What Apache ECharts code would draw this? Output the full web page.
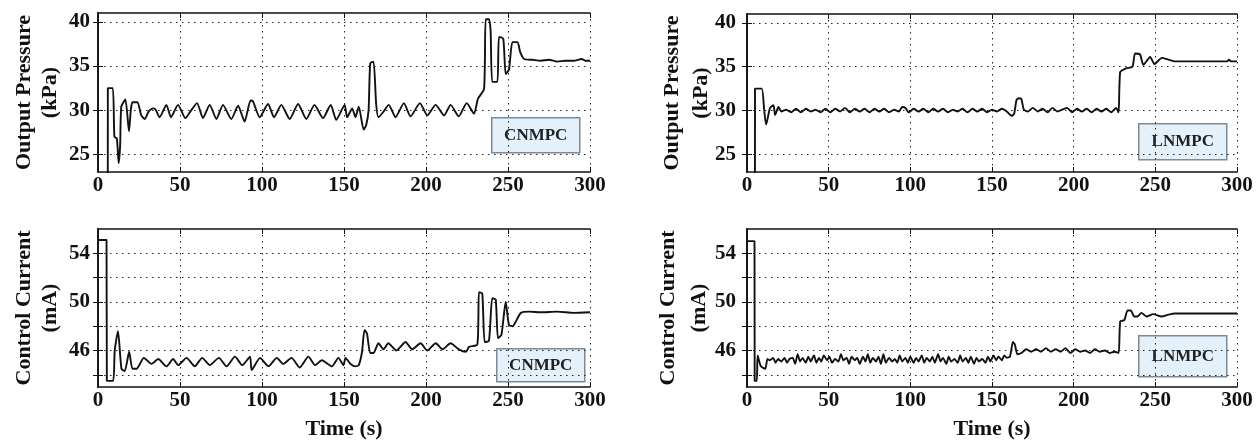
<!DOCTYPE html>
<html>
<head>
<meta charset="utf-8">
<script src="https://cdn.jsdelivr.net/npm/echarts@6/dist/echarts.min.js"></script>
<style>
html,body{margin:0;padding:0;background:#fff;}
#c{width:1260px;height:441px;}
</style>
</head>
<body>
<div id="c"></div>
<script>
// ---- data (time s, value) ----
var timeTicks = [0, 50, 100, 150, 200, 250, 300];
var pressureTicks = [25, 30, 35, 40];
var currentGrid = [44, 46, 48, 50, 52, 54];
var currentLabels = [46, 50, 54];
var panelTags = ['CNMPC', 'LNMPC', 'CNMPC', 'LNMPC'];

var cnmpcPressure = [[0,0],[5.9,0],[6,32.5],[9,32.5],[10,27],[11.5,26.8],[12.6,24],[13.5,26],[14.2,30.4],[16.7,31.2],[18.9,27.6],[20,30],[21,30.9],[24,30.9],[26.4,29.4],[28.5,29],[31,29.9],[33.5,30.2],[35,30.1],[37.6,29.2],[41.7,30.6],[44.5,29.2],[48.8,30.6],[53.3,29.1],[56.5,29.9],[60.4,30.8],[64,29.1],[68.1,30.6],[72.2,29.0],[76.2,30.6],[81.3,29.0],[85.4,30.5],[89.4,28.7],[93,31.1],[94.5,31.0],[98.6,29.2],[103.7,30.7],[107.3,29.2],[111.8,30.6],[116.9,29.0],[122,30.7],[127,29.0],[132,30.6],[137.2,29.1],[141.9,30.6],[145.3,28.9],[150.4,30.6],[151.9,29.2],[155,30.2],[157,29.2],[159,30.4],[162,27.8],[163.5,28.3],[165,30],[166,35.3],[168,35.5],[169.6,30.7],[171,29.2],[174,29.8],[177.3,30.6],[181.4,29.2],[186.5,30.8],[190.6,29.3],[196.3,30.8],[200.8,29.4],[205.9,30.6],[211,29.4],[215,30.6],[220,29.3],[224.8,30.8],[229.3,29.6],[231.7,31.3],[235.4,32.4],[236.4,40.3],[238.4,40.3],[239.4,39],[240.4,33.2],[243.5,33.2],[244.5,38.3],[247.1,38.1],[248.6,34.1],[250.6,34.6],[252.7,37.7],[255.8,37.7],[257.4,36.6],[259.8,35.8],[265,35.7],[270,35.6],[275,35.7],[280,35.5],[285,35.6],[290,35.6],[295,35.8],[297,35.6],[300,35.6]];

var lnmpcPressure = [[0,0],[4.8,0],[4.9,32.5],[9,32.5],[10.5,30.1],[11.7,28.4],[14.1,30.3],[16.2,30.6],[17.2,29.5],[19.3,30.4],[21,29.9],[24,30.1],[27,29.8],[30,30.2],[33,29.8],[36,30.2],[39,29.9],[42,30.1],[45,29.8],[48,30.2],[51,29.8],[54,30.2],[57,29.9],[60,30.3],[63,29.8],[66,30.2],[69,29.9],[72,30.2],[75,29.8],[78,30.2],[81,29.9],[84,30.2],[87,29.8],[90,30.1],[93,29.9],[95,30.4],[97,30.3],[99,29.8],[102,30.2],[105,29.9],[108,30.2],[111,29.8],[114,30.2],[117,29.9],[120,30.2],[123,29.8],[126,30.1],[129,29.9],[132,30.2],[135,29.8],[138,30.2],[141,29.9],[144,30.2],[147,29.8],[150,30.1],[153,29.9],[156,30.2],[159,29.9],[162,29.4],[163.5,29.6],[165,31.2],[166.3,31.4],[168,31.3],[169.5,30.1],[172,29.9],[175,30.3],[178,29.9],[181,30.2],[184,29.8],[187,30.3],[190,29.9],[193,30.1],[196,30.3],[199,29.8],[202,30.2],[205,29.9],[208,30.2],[211,29.8],[214,30.2],[217,29.9],[220,30.2],[223,29.8],[226,30.3],[227.5,29.8],[228.5,34.4],[232,34.8],[236,35],[237.6,36.5],[240.6,36.4],[242.7,35.2],[246.8,36.1],[249.5,35.3],[254,36],[258,35.8],[262,35.6],[280,35.6],[294,35.6],[295,35.8],[296.5,35.6],[300,35.6]];

var cnmpcCurrent = [[0,55.1],[5.2,55.1],[5.4,43.5],[9.2,43.5],[10.2,46],[12.2,47.6],[14.3,44.5],[16.3,44.3],[19,45.9],[21,44.5],[23.5,44.5],[28,45.4],[32.6,44.9],[36.7,45.3],[41.8,44.7],[45.8,45.3],[48.9,44.8],[54,45.4],[59,44.7],[63.5,45.4],[68.2,44.8],[73.7,45.4],[78.4,44.7],[83.5,45.5],[88,44.8],[92.7,45.5],[93.7,44.4],[98.8,45.4],[103.9,44.7],[109,45.4],[113,44.9],[118,45.4],[123,44.6],[128.3,45.5],[132.4,44.8],[136.5,45.2],[142.6,44.7],[146.6,45.4],[149.7,44.8],[150.9,45.4],[154,44.9],[157,44.7],[159,44.8],[161,45.9],[162.5,47.7],[164,47.4],[166,45.8],[168,45.8],[171,46.6],[174,46.1],[177,46.6],[182,46.0],[187.5,46.7],[191.6,46.1],[196.7,46.6],[200.8,46.0],[205.9,46.6],[210,46.1],[215,46.6],[220,46.1],[224.4,45.9],[226.2,46.3],[231.3,46.5],[232.3,50.8],[234.3,50.7],[235.8,46.7],[238.4,46.8],[240.4,50.3],[242.5,50.2],[243.9,47],[246,47.3],[248.6,50.0],[250.6,48.1],[253,48.0],[254.8,48.4],[257.9,49.1],[263,49.2],[270,49.15],[280,49.2],[290,49.1],[300,49.15]];

var lnmpcCurrent = [[0,55],[4.6,55],[4.7,43.5],[6,43.5],[6.5,45.6],[8.5,44.7],[11.2,44.5],[12.5,45.3],[14,45.2],[16,45.4],[17.5,45.0],[19,45.3],[21,45.1],[23,45.4],[24.5,45.0],[26,45.3],[28,45.4],[29.5,44.9],[31,45.7],[32.5,45.1],[34,45.4],[36,45.0],[37.5,45.5],[39,45.1],[41,45.6],[42.5,45.0],[44,45.4],[45.5,45.1],[47,45.6],[49,45.2],[50.5,45.5],[52,45.0],[54,45.3],[56,45.1],[57.5,45.7],[59,45.2],[61,45.4],[62.5,44.9],[64,45.5],[66,45.2],[67.5,45.4],[69,44.9],[71,45.5],[72.5,45.1],[74,45.7],[75.5,45.0],[77,45.4],[79,45.1],[80.5,45.5],[82,44.9],[83.5,45.7],[85,45.0],[87,45.4],[89,45.1],[90.5,45.3],[92,45.0],[93.5,45.6],[95,45.1],[97,45.4],[98.5,45.0],[100,45.5],[102,45.0],[103.5,45.4],[105,45.1],[107,45.6],[108.5,45.0],[110,45.4],[112,45.1],[113.5,45.5],[115,45.0],[117,45.7],[118.5,45.1],[120,45.4],[122,44.9],[123.5,45.5],[125,45.1],[127,45.3],[129,45.0],[130.5,45.6],[132,45.1],[134,45.4],[135.5,45.0],[137,45.5],[139,44.9],[140.5,45.4],[142,45.1],[144,45.3],[146,45.0],[147.5,45.5],[149,45.1],[151,45.6],[152.5,45.2],[154,45.5],[156,45.2],[157.5,45.6],[159,45.4],[161,45.5],[162.8,46.7],[164,46.5],[165.5,45.7],[168,45.8],[171,46.1],[174,45.9],[177,46.1],[180,45.9],[183,46.2],[186,45.9],[189,46.1],[192,45.9],[195,46.2],[198,45.8],[201,46.1],[204,45.9],[207,46.0],[210,45.8],[213,46.1],[216,45.9],[219,46.0],[222,45.8],[225,45.9],[227.5,45.8],[228.5,48.4],[231,48.5],[233,49.3],[235,49.3],[237,48.8],[239,48.8],[241.5,49.1],[244.6,48.8],[248.7,49.0],[253.8,48.8],[258,48.95],[262,49.05],[280,49.05],[300,49.05]];

// ---- layout / style ----
var FONT = 'Liberation Serif';
var grids = [
  {left: 98, top: 13, width: 492, height: 159},
  {left: 747, top: 14, width: 490, height: 158},
  {left: 98, top: 229, width: 492, height: 159},
  {left: 747, top: 229, width: 490, height: 160}
];
var nameGaps = [35, 31, 35, 32];
var nameLineHeights = [26, 29, 26, 31];
var dotted = {color: '#222', width: 1, type: [1.5, 4.5]};
var frame = {show: true, lineStyle: {color: '#111', width: 1.6}};

var xAxes = [], yAxes = [];
for (var g = 0; g < 4; g++) {
  var isBottomRow = g >= 2;
  var isRight = g % 2 === 1;
  xAxes.push({
    type: 'value', gridIndex: g, position: 'bottom', min: 0, max: 300, interval: 50,
    axisLine: frame,
    axisTick: {show: true, inside: true, length: 5, lineStyle: {color: '#111', width: 1}},
    axisLabel: {color: '#111', fontFamily: FONT, fontWeight: 'bold', fontSize: 21, margin: 3},
    splitLine: {show: true, lineStyle: dotted},
    name: isBottomRow ? 'Time (s)' : '', nameLocation: 'middle', nameGap: 31,
    nameTextStyle: {color: '#111', fontFamily: FONT, fontWeight: 'bold', fontSize: 22}
  });
  xAxes.push({
    type: 'value', gridIndex: g, position: 'top', min: 0, max: 300, interval: 50,
    axisLine: frame,
    axisTick: {show: true, inside: true, length: 5, lineStyle: {color: '#111', width: 1}},
    axisLabel: {show: false}, splitLine: {show: false}
  });
  var isP = !isBottomRow;
  var ymin = isP ? 23 : 43, ymax = isP ? 41 : 56;
  var tickVals = isP ? pressureTicks : currentGrid;
  var labVals = isP ? pressureTicks : currentLabels;
  var yname = isP ? 'Output Pressure\n(kPa)' : 'Control Current\n(mA)';
  var ya = {
    type: 'value', gridIndex: g, position: 'left', min: ymin, max: ymax,
    axisLine: frame,
    axisTick: {show: true, inside: true, length: 5, customValues: tickVals, lineStyle: {color: '#111', width: 1}},
    axisLabel: {color: '#111', fontFamily: FONT, fontWeight: 'bold', fontSize: 21, margin: isRight ? 11 : 8, customValues: labVals},
    splitLine: {show: true, lineStyle: dotted},
    name: yname, nameLocation: 'middle', nameRotate: 90, nameGap: nameGaps[g],
    nameTextStyle: {color: '#111', fontFamily: FONT, fontWeight: 'bold', fontSize: 22, lineHeight: nameLineHeights[g]}
  };
  if (isRight) { ya.nameMoveOverlap = false; }
  yAxes.push(ya);
  yAxes.push({
    type: 'value', gridIndex: g, position: 'right', min: ymin, max: ymax,
    axisLine: frame,
    axisTick: {show: true, inside: true, length: 5, customValues: tickVals, lineStyle: {color: '#111', width: 1}},
    axisLabel: {show: false}, splitLine: {show: false}
  });
}

var seriesData = [cnmpcPressure, lnmpcPressure, cnmpcCurrent, lnmpcCurrent];
var series = seriesData.map(function (d, i) {
  return {
    type: 'line', xAxisIndex: i * 2, yAxisIndex: i * 2, data: d,
    showSymbol: false, symbol: 'none', clip: true, animation: false,
    smooth: 0.2,
    lineStyle: {color: '#111', width: 1.9}, z: 3
  };
});

var boxes = [
  {x: 491, y: 117, w: 88, h: 35},
  {x: 1138, y: 123, w: 88, h: 36},
  {x: 496, y: 348, w: 88, h: 33},
  {x: 1138, y: 335, w: 88, h: 41}
];
var graphic = boxes.map(function (b, i) {
  return {
    type: 'group', left: b.x, top: b.y, z: 10,
    children: [
      {type: 'rect', shape: {x: 0, y: 0, width: b.w, height: b.h},
       style: {fill: '#e4f1fb', stroke: '#7d8a96', lineWidth: 1.5}},
      {type: 'text', x: b.w / 2, y: b.h / 2,
       style: {text: panelTags[i], fill: '#222', font: 'bold 17px "Liberation Serif"', align: 'center', verticalAlign: 'middle'}}
    ]
  };
});

var chart = echarts.init(document.getElementById('c'), null, {renderer: 'canvas'});
chart.setOption({
  animation: false,
  backgroundColor: '#fff',
  grid: grids,
  xAxis: xAxes,
  yAxis: yAxes,
  series: series,
  graphic: graphic
});
</script>
</body>
</html>
